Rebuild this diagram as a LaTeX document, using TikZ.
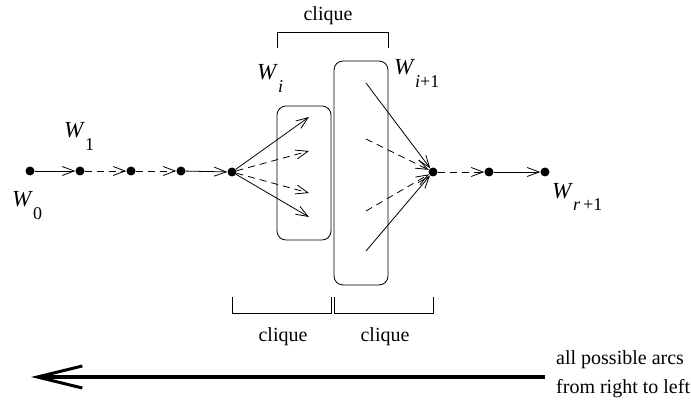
\documentclass[tikz,border=0pt]{standalone}
\usepackage{fontspec}
\setmainfont{Liberation Serif}
\usetikzlibrary{arrows.meta}
\newcommand{\wlabel}[1]{\textit{W}\raisebox{-13pt}{\fontsize{18}{20}\selectfont #1}}
\begin{document}
\begin{tikzpicture}[
    x=1pt, y=-1pt,
    font=\fontsize{20}{24}\selectfont,
    vertex/.style={circle, fill=black, inner sep=0pt, minimum size=9pt},
    arc/.style={line width=0.8pt, -{Straight Barb[length=12pt, width=9pt]}},
    dasharc/.style={arc, dash pattern=on 7pt off 5pt},
    clqbox/.style={draw, line width=0.8pt, rounded corners=9pt, minimum width=54pt},
    bracket/.style={line width=0.8pt},
    wlab/.style={anchor=base west, inner sep=0pt, font=\fontsize{23}{26}\selectfont},
    txt/.style={inner sep=0pt}
]
\useasboundingbox (0,0) rectangle (691,401);

% Boxes
\node (boxi) [clqbox, minimum height=134pt] at (304,173) {};
\node (boxj) [clqbox, minimum height=224pt] at (361,173) {};

% Vertices
\node (w0) [vertex] at (30,171) {};
\node (w1) [vertex] at (80,171) {};
\node (va) [vertex] at (131,171) {};
\node (vb) [vertex] at (181,171) {};
\node (wi) [vertex] at (232,172) {};
\node (wj) [vertex] at (433,172) {};
\node (vc) [vertex] at (489,172) {};
\node (wr) [vertex] at (545,172) {};

% Labels
\node (lw0) [wlab] at (12,207) {\wlabel{0}};
\node (lw1) [wlab] at (64,138) {\wlabel{1}};
\node (lwi) [wlab] at (257,80) {\wlabel{\textit{i}}};
\node (lwj) [wlab] at (394,75) {\wlabel{\textit{i}+1}};
\node (lwr) [wlab] at (552,198) {\wlabel{\textit{r}\,+1}};

% Arc ends inside the boxes
\coordinate (ti1) at (309,117);
\coordinate (ti2) at (309,151);
\coordinate (ti3) at (309,193);
\coordinate (ti4) at (309,217);
\coordinate (sj1) at (366,83);
\coordinate (sj2) at (366,139);
\coordinate (sj3) at (366,211);
\coordinate (sj4) at (366,251);

% Arcs
\draw [arc] (w0) -- (w1);
\draw [dasharc] (w1) -- (va);
\draw [dasharc] (va) -- (vb);
\draw [arc] (vb) -- (wi);
\draw [arc] (wi) -- (ti1);
\draw [dasharc] (wi) -- (ti2);
\draw [dasharc] (wi) -- (ti3);
\draw [arc] (wi) -- (ti4);
\draw [arc] (sj1) -- (wj);
\draw [dasharc] (sj2) -- (wj);
\draw [dasharc] (sj3) -- (wj);
\draw [arc] (sj4) -- (wj);
\draw [dasharc] (wj) -- (vc);
\draw [arc] (vc) -- (wr);

% Brackets
\draw [bracket] (277,48) -- (277,32) -- (388,32) -- (388,48);
\draw [bracket] (232,297) -- (232,313) -- (331,313) -- (331,297);
\draw [bracket] (334,297) -- (334,313) -- (433,313) -- (433,297);
\node (clqtop) [txt, anchor=base] at (328,21) {clique};
\node (clqleft) [txt, anchor=base] at (283,341) {clique};
\node (clqright) [txt, anchor=base] at (385,341) {clique};

% Direction of all arcs
\coordinate (dirR) at (545,377);
\coordinate (dirL) at (31,377);
\draw [line width=3.5pt, -{Straight Barb[length=45pt, width=22pt, line width=3pt]}] (dirR) -- (dirL);
\node (allarcs) [txt, anchor=base west] at (556,364) {all possible arcs};
\node (rtol) [txt, anchor=base west] at (556,393) {from right to left};

\end{tikzpicture}
\end{document}
